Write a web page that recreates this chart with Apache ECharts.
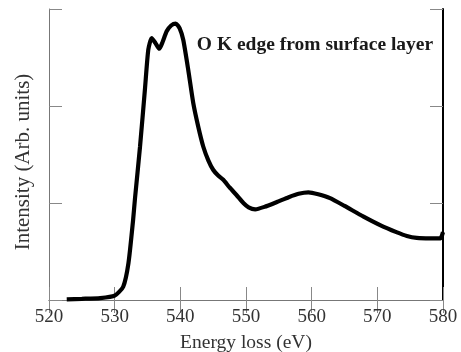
<!DOCTYPE html>
<html>
<head>
<meta charset="utf-8">
<script src="https://cdn.jsdelivr.net/npm/echarts@6/dist/echarts.min.js"></script>
<style>
  html, body { margin: 0; padding: 0; background: #fff; }
  #chart { width: 461px; height: 352px; }
</style>
</head>
<body>
<div id="chart"></div>
<script>
// O K edge spectrum
const energy = [
  522.7, 525.0, 527.8, 530.0, 531.3, 532.1, 532.8, 533.1, 533.86, 534.62,
  535.12, 535.64, 536.2, 536.8, 537.3, 537.92, 538.6, 539.3, 539.9, 540.45,
  541.21, 541.97, 542.73, 543.5, 544.26, 545.02, 545.8, 546.54, 547.5, 548.58,
  549.6, 550.4, 551.4, 552.8, 554.7, 556.5, 558.0, 559.5, 561.0, 562.8,
  565.0, 567.9, 570.5, 572.9, 574.5, 576.0, 578.0, 579.6, 580.0
];
const intensity = [
  0.007, 0.012, 0.02, 0.045, 0.137, 0.38, 0.82, 1.05, 1.58, 2.18,
  2.58, 2.70, 2.65, 2.59, 2.66, 2.77, 2.83, 2.85, 2.80, 2.68,
  2.37, 2.03, 1.787, 1.58, 1.44, 1.34, 1.28, 1.24, 1.16, 1.08,
  1.00, 0.955, 0.935, 0.96, 1.01, 1.06, 1.095, 1.11, 1.09, 1.05,
  0.97, 0.86, 0.77, 0.70, 0.66, 0.64, 0.635, 0.636, 0.70
];
const xTicks = [520, 530, 540, 550, 560, 570, 580];

const font = "Liberation Serif";
const chart = echarts.init(document.getElementById("chart"));

const frameX = {
  type: "value",
  min: 520,
  max: 580,
  interval: 10,
  axisLine: { show: true, lineStyle: { color: "#777", width: 1 } },
  axisTick: { show: true, inside: true, length: 13, lineStyle: { color: "#888" } },
  splitLine: { show: false },
};
const frameY = {
  type: "value",
  min: 0,
  max: 3,
  interval: 1,
  axisLine: { show: true, lineStyle: { color: "#777", width: 1 } },
  axisTick: { show: true, inside: true, length: 13, lineStyle: { color: "#888" } },
  axisLabel: { show: false },
  splitLine: { show: false },
};

chart.setOption({
  animation: false,
  grid: { left: 49, right: 18, top: 9, bottom: 52, containLabel: false, outerBoundsMode: "none" },
  title: {
    text: "O K edge from surface layer",
    left: 310,
    top: 30,
    textAlign: "center",
    textStyle: { fontFamily: font, fontWeight: "bold", fontSize: 19.5, color: "#1a1a1a" },
  },
  xAxis: [
    {
      ...frameX,
      position: "bottom",
      name: "Energy loss (eV)",
      nameLocation: "middle",
      nameGap: 33,
      nameTextStyle: { fontFamily: font, fontSize: 19.5, color: "#333" },
      axisLabel: {
        show: true,
        margin: 8,
        fontFamily: font,
        fontSize: 19,
        color: "#333",
        showMinLabel: true,
        showMaxLabel: true,
        formatter: (v) => (xTicks.includes(v) ? String(v) : ""),
      },
    },
    { ...frameX, position: "top", axisLabel: { show: false } },
  ],
  yAxis: [
    {
      ...frameY,
      position: "left",
      name: "Intensity (Arb. units)",
      nameLocation: "middle",
      nameGap: 15,
      nameTextStyle: { fontFamily: font, fontSize: 21, color: "#333", padding: [0, 15, 0, 0] },
    },
    {
      ...frameY,
      position: "right",
      axisLine: { show: true, lineStyle: { color: "#000", width: 2 } },
    },
  ],
  series: [
    {
      type: "line",
      data: energy.map((e, i) => [e, intensity[i]]),
      smooth: 0.2,
      showSymbol: false,
      lineStyle: { color: "#000", width: 4.2 },
      clip: false,
    },
  ],
});
</script>
</body>
</html>
